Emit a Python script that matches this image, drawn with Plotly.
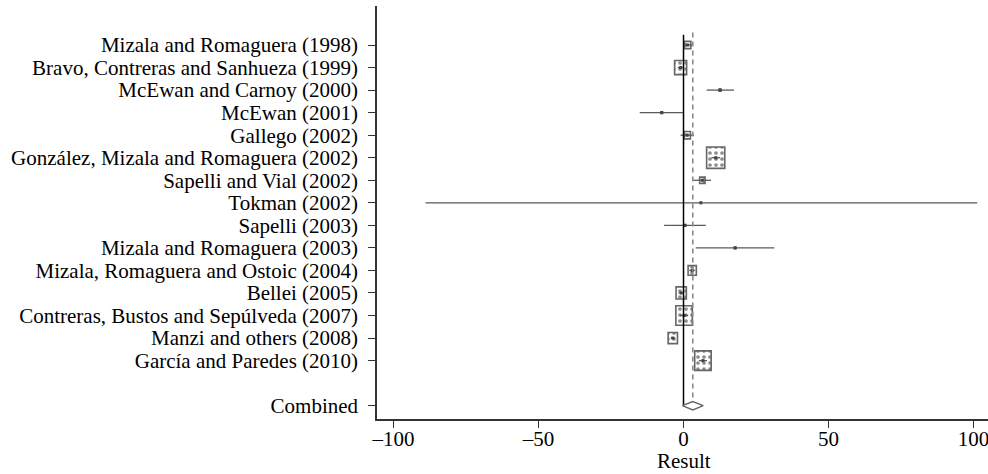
import numpy as np
import plotly.graph_objects as go

# ---------------- data ----------------
studies = [
    "Mizala and Romaguera (1998)",
    "Bravo, Contreras and Sanhueza (1999)",
    "McEwan and Carnoy (2000)",
    "McEwan (2001)",
    "Gallego (2002)",
    "González, Mizala and Romaguera (2002)",
    "Sapelli and Vial (2002)",
    "Tokman (2002)",
    "Sapelli (2003)",
    "Mizala and Romaguera (2003)",
    "Mizala, Romaguera and Ostoic (2004)",
    "Bellei (2005)",
    "Contreras, Bustos and Sepúlveda (2007)",
    "Manzi and others (2008)",
    "García and Paredes (2010)",
]
estimate = [1.45, -1.0, 12.6, -7.5, 1.3, 11.1, 6.5, 6.0, 0.5, 17.8, 3.0, -0.8, 0.2, -3.7, 6.7]
ci_low   = [-0.1, -2.0, 8.0, -15.1, -1.0, 9.6, 3.4, -89.0, -6.7, 4.2, 2.0, -1.7, -1.2, -4.4, 5.3]
ci_high  = [3.1, 0.0, 17.4, 0.2, 3.6, 12.6, 9.5, 101.3, 7.7, 31.3, 4.0, 0.1, 1.6, -3.0, 8.1]
weight   = [2.0, 7.5, 0.15, 0.1, 2.0, 17.0, 1.5, 0.02, 0.1, 0.1, 3.5, 5.5, 14.0, 4.5, 14.0]

combined_label = "Combined"
combined_est = 3.2
combined_low = -0.4
combined_high = 6.8

x_tickvals = [-100, -50, 0, 50, 100]
x_title = "Result"

# ---------------- layout constants ----------------
FONT = "Liberation Serif"
W, H = 988, 474
ML, MR, MT, MB = 377, 0, 6, 55
XR = [-105.7, 105.0]
n = len(studies)
rows = list(range(1, n + 1))
comb_row = n + 2
YR = [17.59, -0.73]

plot_w = W - ML - MR
plot_h = H - MT - MB
px_per_x = plot_w / (XR[1] - XR[0])
px_per_row = plot_h / (YR[0] - YR[1])

side_px = 4.4 * np.sqrt(np.array(weight))
box_w = side_px / px_per_x
box_h = 1.18 * side_px / px_per_row

fig = go.Figure()

# boxes (weights)
fig.add_trace(go.Bar(
    orientation="h",
    y=rows,
    x=box_w,
    base=np.array(estimate) - box_w / 2,
    width=box_h,
    marker=dict(
        color="white",
        line=dict(color="#666666", width=1.6),
        pattern=dict(shape=".", fgcolor="#1a1a1a", bgcolor="white", size=6, solidity=0.3),
    ),
    hoverinfo="skip",
    showlegend=False,
))

# confidence interval lines
cx, cy = [], []
for r, lo, hi in zip(rows, ci_low, ci_high):
    cx += [lo, hi, None]
    cy += [r, r, None]
fig.add_trace(go.Scatter(x=cx, y=cy, mode="lines",
                         line=dict(color="#5a5a5a", width=1.3),
                         hoverinfo="skip", showlegend=False))

# point estimates
fig.add_trace(go.Scatter(x=estimate, y=rows, mode="markers",
                         marker=dict(symbol="square", size=3, color="#444444"),
                         hoverinfo="skip", showlegend=False))

# line of no effect
fig.add_trace(go.Scatter(x=[0, 0], y=[0.55, comb_row], mode="lines",
                         line=dict(color="black", width=1.5),
                         hoverinfo="skip", showlegend=False))

# overall effect dashed line
dh = 4.2 / px_per_row
fig.add_trace(go.Scatter(x=[combined_est, combined_est], y=[0.45, comb_row - dh], mode="lines",
                         line=dict(color="#8a8a8a", width=1.6, dash="5px,4px"),
                         hoverinfo="skip", showlegend=False))

# combined diamond
fig.add_trace(go.Scatter(
    x=[combined_low, combined_est, combined_high, combined_est, combined_low],
    y=[comb_row, comb_row - dh, comb_row, comb_row + dh, comb_row],
    mode="lines", fill="toself", fillcolor="white",
    line=dict(color="#666666", width=1.4),
    hoverinfo="skip", showlegend=False))

fig.add_annotation(
    text=x_title, xref="x", yref="paper",
    x=0, y=-(H - MT - plot_h) / plot_h, yanchor="bottom", xanchor="center",
    yshift=0, borderpad=0,
    showarrow=False, font=dict(family=FONT, size=21, color="black"),
)

fig.update_layout(
    width=W, height=H,
    margin=dict(l=ML, r=MR, t=MT, b=MB, pad=0),
    paper_bgcolor="white", plot_bgcolor="white",
    font=dict(family=FONT, size=21, color="black"),
    barmode="overlay",
    showlegend=False,
    xaxis=dict(
        range=XR, tickvals=x_tickvals,
        ticktext=[("\u2013" + str(abs(v))) if v < 0 else str(v) for v in x_tickvals],
        showgrid=False, zeroline=False,
        showline=True, linecolor="#333333", linewidth=1.5,
        ticks="outside", ticklen=7, tickwidth=1.3, tickcolor="#333333",
        ticklabelstandoff=-7,
        ticklabeloverflow="allow",
        tickfont=dict(family=FONT, size=21, color="black"),
        automargin=False, fixedrange=True,
    ),
    yaxis=dict(
        range=YR,
        tickvals=rows + [comb_row],
        ticktext=studies + [combined_label],
        showgrid=False, zeroline=False,
        showline=True, linecolor="#333333", linewidth=1.5,
        ticks="outside", ticklen=7, tickwidth=1.3, tickcolor="#333333",
        ticklabelstandoff=6,
        tickfont=dict(family=FONT, size=21, color="black"),
        automargin=False, fixedrange=True,
    ),
)

fig.write_html("out.html")
